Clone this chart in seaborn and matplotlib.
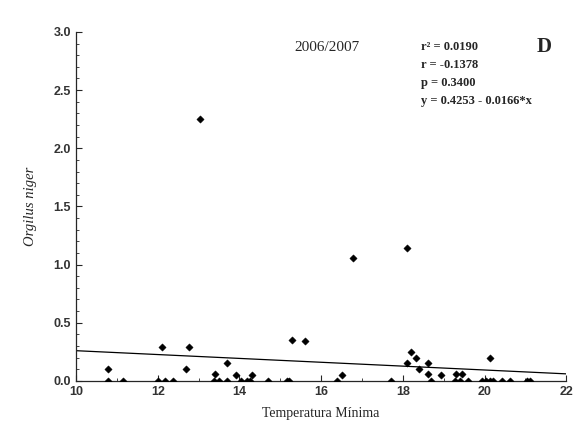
import matplotlib
matplotlib.use("Agg")
import matplotlib.pyplot as plt
from matplotlib.ticker import MultipleLocator
import seaborn as sns
import pandas as pd
import numpy as np

# minimum temperature vs Orgilus niger, 2006/2007
temp = [10.78, 12.1, 12.77, 12.69, 13.04, 13.7, 13.4, 13.92, 14.31, 15.29, 15.6,
        16.5, 16.78, 18.1, 18.2, 18.33, 18.1, 18.4, 18.62, 18.62, 18.94, 19.3,
        19.45, 20.14,
        10.78, 11.15, 12.0, 12.18, 12.38, 13.38, 13.5, 13.7, 14.04, 14.18, 14.26,
        14.7, 15.17, 15.22, 16.4, 17.7, 18.7, 19.28, 19.4, 19.6, 19.94, 20.04,
        20.14, 20.2, 20.43, 20.63, 21.05, 21.12]
orgilus = [0.10, 0.29, 0.29, 0.10, 2.25, 0.155, 0.06, 0.05, 0.05, 0.35, 0.34,
           0.05, 1.06, 1.14, 0.25, 0.20, 0.155, 0.10, 0.155, 0.06, 0.05, 0.06,
           0.06, 0.20,
           0, 0, 0, 0, 0, 0, 0, 0, 0, 0, 0,
           0, 0, 0, 0, 0, 0, 0, 0, 0, 0, 0,
           0, 0, 0, 0, 0, 0]

intercept = 0.4253
slope = -0.0166
stats_lines = ["r² = 0.0190", "r = -0.1378", "p = 0.3400", "y = 0.4253 - 0.0166*x"]

df = pd.DataFrame({"temp": temp, "orgilus": orgilus})
fit_x = np.array([10, 22])
fit = pd.DataFrame({"x": fit_x, "y": intercept + slope * fit_x})

sns.set_style("ticks")
fig = plt.figure(figsize=(5.76, 4.26), dpi=100)
ax = fig.add_axes([0.132, 0.106, 0.851, 0.819])

sns.lineplot(data=fit, x="x", y="y", color="black", linewidth=0.9, ax=ax)
sns.scatterplot(data=df, x="temp", y="orgilus", marker="D", s=14, color="black",
                edgecolor="black", linewidth=0.3, ax=ax, zorder=3)
for coll in ax.collections:
    coll.set_clip_on(True)

ax.set_xlim(10, 22)
ax.set_ylim(0, 3.0)
ax.xaxis.set_major_locator(MultipleLocator(2))
ax.xaxis.set_minor_locator(MultipleLocator(1))
ax.yaxis.set_minor_locator(MultipleLocator(0.1))
ax.set_yticks(np.arange(0, 3.01, 0.5))
ax.set_yticklabels([f"{v:.1f}" for v in np.arange(0, 3.01, 0.5)])
ax.tick_params(which="major", direction="in", length=4, width=0.8, labelsize=9)
ax.tick_params(which="minor", direction="in", length=2, width=0.6)
for lab in ax.get_xticklabels() + ax.get_yticklabels():
    lab.set_fontweight("bold")
    lab.set_family("Liberation Sans")
    lab.set_color("#333333")

for side in ["top", "right"]:
    ax.spines[side].set_visible(False)
ax.spines["left"].set_linewidth(0.9)
ax.spines["bottom"].set_linewidth(0.9)

ax.set_xlabel("Temperatura Mínima", family="Liberation Serif", fontsize=10, labelpad=7)
ax.set_ylabel("Orgilus niger", family="Liberation Serif", style="italic", fontsize=10.5,
              labelpad=12)

ax.text(16.15, 2.87, "2006/2007", family="Liberation Serif", fontsize=11,
        ha="center", va="center")
for i, line in enumerate(stats_lines):
    ax.text(18.45, 2.87 - i * 0.155, line, family="Liberation Serif", fontweight="bold",
            fontsize=9, ha="left", va="center")
ax.text(21.45, 2.87, "D", family="Liberation Serif", fontweight="bold", fontsize=15,
        ha="center", va="center")

fig.savefig("out.png", dpi=100)
